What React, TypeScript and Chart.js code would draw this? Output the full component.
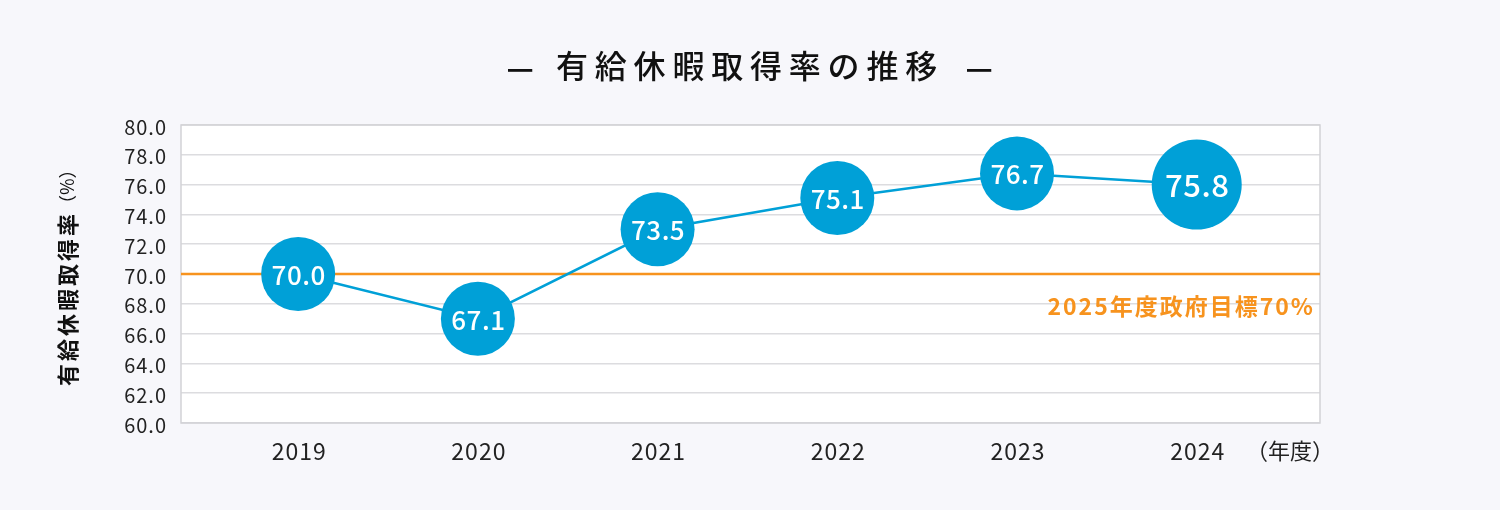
import React, { useEffect, useRef } from "react";
import { Chart, registerables } from "chart.js";

Chart.register(...registerables);

// ---- data ----
const years = ["2019", "2020", "2021", "2022", "2023", "2024"];
const valueLabels = ["70.0", "67.1", "73.5", "75.1", "76.7", "75.8"];
// vertical positions of the markers
const pointValues = [70.0, 67.0, 73.0, 75.1, 76.75, 76.0];
const yTickValues = [60, 62, 64, 66, 68, 70, 72, 74, 76, 78, 80];
const targetValue = 70;
const targetLabel = "2025年度政府目標70%";
const titleText = "有給休暇取得率の推移";
const yAxisTitle = "有給休暇取得率";
const yAxisUnit = "（%）";
const xAxisUnit = "（年度）";

// ---- styles ----
const FONT = '"Noto Sans CJK JP", "Noto Sans", sans-serif';
const BLUE = "#00a0d7";
const ORANGE = "#f7931e";
const BG = "#f7f7fb";
const pointRadii = [37, 37, 37, 37, 37, 45];
const labelSizes = [26, 26, 26, 26, 26, 31];

const decorPlugin = {
  id: "decor",
  beforeDraw(chart: any) {
    const { ctx, chartArea: a } = chart;
    ctx.save();
    ctx.fillStyle = BG;
    ctx.fillRect(0, 0, chart.width, chart.height);
    ctx.fillStyle = "#ffffff";
    ctx.fillRect(a.left, a.top, a.right - a.left, a.bottom - a.top);
    ctx.restore();
  },
  beforeDatasetsDraw(chart: any) {
    const { ctx, chartArea: a, scales } = chart;
    const y = scales.y.getPixelForValue(targetValue);
    ctx.save();
    // border
    ctx.strokeStyle = "#d2d2d6";
    ctx.lineWidth = 1.5;
    ctx.strokeRect(a.left, a.top, a.right - a.left, a.bottom - a.top);
    // target line
    ctx.strokeStyle = ORANGE;
    ctx.lineWidth = 2.5;
    ctx.beginPath();
    ctx.moveTo(a.left, y);
    ctx.lineTo(a.right, y);
    ctx.stroke();
    ctx.fillStyle = ORANGE;
    ctx.font = `bold 23px ${FONT}`;
    (ctx as any).letterSpacing = "2px";
    ctx.textAlign = "right";
    ctx.textBaseline = "middle";
    ctx.fillText(targetLabel, a.right - 5, y + 32);
    ctx.restore();
  },
  afterDatasetsDraw(chart: any) {
    const { ctx } = chart;
    const meta = chart.getDatasetMeta(0);
    ctx.save();
    ctx.fillStyle = "#ffffff";
    ctx.textAlign = "center";
    ctx.textBaseline = "middle";
    (ctx as any).letterSpacing = "0.5px";
    meta.data.forEach((pt: any, i: number) => {
      ctx.font = `500 ${labelSizes[i]}px ${FONT}`;
      ctx.fillText(valueLabels[i], pt.x + 0.5, pt.y + 1);
    });
    ctx.restore();
  },
  afterDraw(chart: any) {
    const { ctx, scales, chartArea: a } = chart;
    ctx.save();
    // y tick labels
    ctx.fillStyle = "#222222";
    ctx.font = `20px ${FONT}`;
    (ctx as any).letterSpacing = "1px";
    ctx.textAlign = "right";
    ctx.textBaseline = "middle";
    yTickValues.forEach((v) => {
      ctx.fillText(v.toFixed(1), 167, scales.y.getPixelForValue(v) + 2);
    });
    // x tick labels
    ctx.font = `23px ${FONT}`;
    (ctx as any).letterSpacing = "1px";
    ctx.textAlign = "center";
    years.forEach((yr, i) => {
      ctx.fillText(yr, scales.x.getPixelForValue(i) + 1, a.bottom + 28);
    });
    ctx.font = `22px ${FONT}`;
    (ctx as any).letterSpacing = "0px";
    ctx.fillText(xAxisUnit, 1290, a.bottom + 28);
    // title
    ctx.fillStyle = "#111111";
    ctx.font = `500 32px ${FONT}`;
    (ctx as any).letterSpacing = "6.8px";
    ctx.textAlign = "left";
    ctx.fillText(titleText, 556, 66);
    (ctx as any).letterSpacing = "0px";
    ctx.font = `bold 30px ${FONT}`;
    ctx.textAlign = "center";
    ctx.fillText("—", 520, 68);
    ctx.fillText("—", 979, 68);
    // y axis title
    ctx.translate(68, 386);
    ctx.rotate(-Math.PI / 2);
    ctx.textAlign = "left";
    ctx.textBaseline = "middle";
    ctx.font = `bold 22px ${FONT}`;
    (ctx as any).letterSpacing = "3px";
    ctx.fillStyle = "#111111";
    ctx.fillText(yAxisTitle, 0, 0);
    const w = ctx.measureText(yAxisTitle).width;
    ctx.font = `18px ${FONT}`;
    (ctx as any).letterSpacing = "0px";
    ctx.fillText(yAxisUnit, w - 2, -1);
    ctx.restore();
  },
};

export default function App() {
  const ref = useRef<HTMLCanvasElement | null>(null);
  useEffect(() => {
    document.body.style.margin = "0";
    document.body.style.background = BG;
    if (!ref.current) return;
    const chart = new Chart(ref.current, {
      type: "line",
      data: {
        datasets: [
          {
            data: years.map((_, i) => ({ x: i, y: pointValues[i] })),
            borderColor: BLUE,
            borderWidth: 2.5,
            backgroundColor: BLUE,
            pointBackgroundColor: BLUE,
            pointBorderColor: BLUE,
            pointBorderWidth: 0,
            pointRadius: pointRadii,
            pointHoverRadius: pointRadii,
            tension: 0,
            fill: false,
          },
        ],
      },
      options: {
        responsive: false,
        animation: false,
        events: [],
        layout: { padding: { left: 0, right: 180, top: 125, bottom: 0 } },
        plugins: {
          legend: { display: false },
          tooltip: { enabled: false },
          title: { display: false },
        },
        scales: {
          x: {
            type: "linear",
            min: -0.652,
            max: 5.686,
            ticks: { display: false, stepSize: 1 },
            grid: { display: false },
            border: { display: false },
            afterFit(s: any) {
              s.height = 87;
            },
          },
          y: {
            type: "linear",
            min: 60,
            max: 80,
            ticks: { display: false, stepSize: 2 },
            grid: { color: "#dcdcdf", lineWidth: 1.5, drawTicks: false },
            border: { display: false },
            afterFit(s: any) {
              s.width = 181;
            },
          },
        },
      },
      plugins: [decorPlugin],
    } as any);
    if ((document as any).fonts && (document as any).fonts.ready) {
      (document as any).fonts.ready.then(() => chart.update());
    }
    return () => chart.destroy();
  }, []);
  return (
    <canvas
      ref={ref}
      width={1500}
      height={510}
      style={{ display: "block", width: 1500, height: 510 }}
    />
  );
}
